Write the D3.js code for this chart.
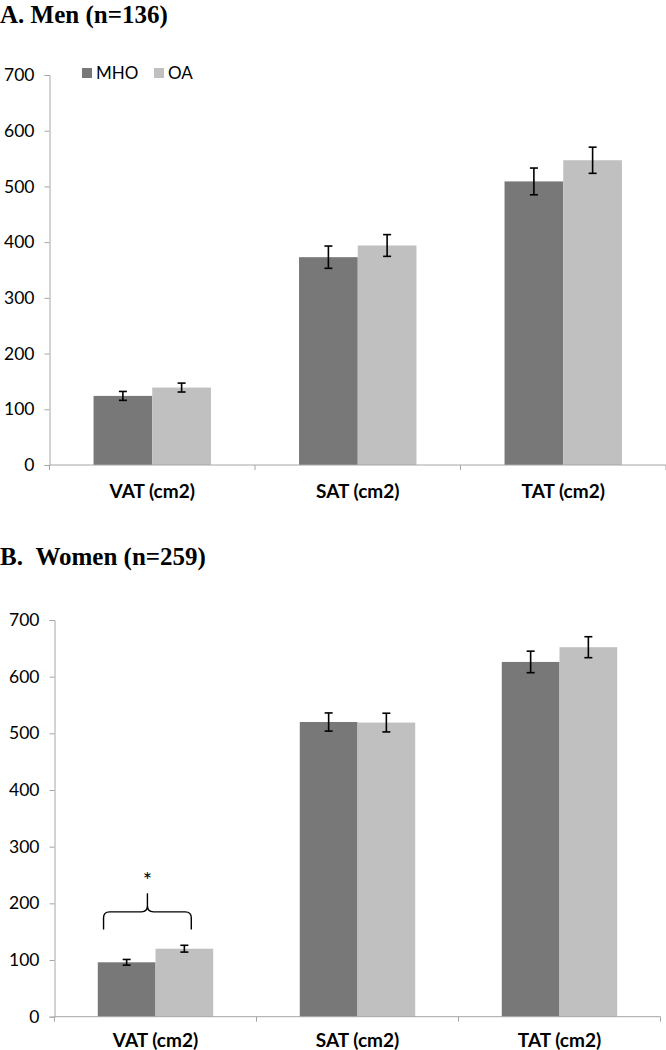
<!DOCTYPE html>
<html>
<head>
<meta charset="utf-8">
<script src="https://cdn.jsdelivr.net/npm/d3@7"></script>
<style>
  html, body { margin: 0; padding: 0; background: #fff; }
  svg { display: block; }
</style>
</head>
<body>
<svg id="chart" width="666" height="1050"></svg>
<script>
// ---------------- data ----------------
const categories = ["VAT (cm2)", "SAT (cm2)", "TAT (cm2)"];
const seriesNames = ["MHO", "OA"];
const seriesColors = ["#787878", "#c0c0c0"];
const yTickValues = [0, 100, 200, 300, 400, 500, 600, 700];

const menMHO = [124, 373, 509];
const menMHOErr = [8, 20, 24];
const menOA = [139, 394, 547];
const menOAErr = [8, 19.5, 23.5];

const womenMHO = [96, 520, 626];
const womenMHOErr = [5, 16, 19];
const womenOA = [120, 519, 652];
const womenOAErr = [6, 16.5, 18.5];

const panelTitles = ["A. Men (n=136)", "B.\u00a0\u00a0Women (n=259)"];

// significance annotation (women, VAT): brace values in data units
const braceLow = 154, braceMid = 185, braceTip = 218, starValue = 250;

// ---------------- drawing ----------------
const svg = d3.select("#chart");
const axisColor = "#a6a6a6";
const tickFont = "Lato, 'Open Sans', sans-serif";

function drawPanel(opts) {
  const { left, right, top, bottom, mho, mhoErr, oa, oaErr, title, titleY, legend, labelY } = opts;
  const g = svg.append("g");

  const x0 = d3.scaleBand().domain(categories).range([left, right]).padding(0);
  const x1 = d3.scaleBand().domain(seriesNames).range([0, x0.bandwidth()]).paddingInner(0).paddingOuter(0.75);
  const y = d3.scaleLinear().domain([0, 700]).range([bottom, top]);

  // title
  svg.append("text")
    .attr("x", 0).attr("y", titleY)
    .attr("font-family", "'Liberation Serif', 'Times New Roman', serif")
    .attr("font-weight", "bold").attr("font-size", 25)
    .attr("fill", "#000")
    .text(title);

  const rows = categories.map((c, i) => ({
    cat: c,
    vals: [
      { s: "MHO", v: mho[i], e: mhoErr[i], color: seriesColors[0] },
      { s: "OA", v: oa[i], e: oaErr[i], color: seriesColors[1] }
    ]
  }));

  const groups = g.selectAll("g.cat").data(rows).join("g")
    .attr("class", "cat")
    .attr("transform", d => `translate(${x0(d.cat)},0)`);

  groups.selectAll("rect").data(d => d.vals).join("rect")
    .attr("x", d => x1(d.s))
    .attr("y", d => y(d.v))
    .attr("width", x1.bandwidth())
    .attr("height", d => y(0) - y(d.v))
    .attr("fill", d => d.color);

  // error bars
  const capW = 4;
  const eb = groups.selectAll("g.err").data(d => d.vals).join("g").attr("class", "err")
    .attr("stroke", "#000").attr("stroke-width", 1.6);
  eb.append("line")
    .attr("x1", d => x1(d.s) + x1.bandwidth() / 2)
    .attr("x2", d => x1(d.s) + x1.bandwidth() / 2)
    .attr("y1", d => y(d.v + d.e)).attr("y2", d => y(d.v - d.e));
  eb.append("line")
    .attr("x1", d => x1(d.s) + x1.bandwidth() / 2 - capW)
    .attr("x2", d => x1(d.s) + x1.bandwidth() / 2 + capW)
    .attr("y1", d => y(d.v + d.e)).attr("y2", d => y(d.v + d.e));
  eb.append("line")
    .attr("x1", d => x1(d.s) + x1.bandwidth() / 2 - capW)
    .attr("x2", d => x1(d.s) + x1.bandwidth() / 2 + capW)
    .attr("y1", d => y(d.v - d.e)).attr("y2", d => y(d.v - d.e));

  // y axis
  const yAxis = g.append("g")
    .attr("transform", `translate(${left},0)`)
    .call(d3.axisLeft(y).tickValues(yTickValues).tickSize(5).tickSizeOuter(5).tickPadding(10));
  yAxis.select(".domain").attr("stroke", axisColor);
  yAxis.selectAll(".tick line").attr("stroke", axisColor);
  yAxis.selectAll(".tick text").attr("font-family", tickFont).attr("font-size", 17.5).attr("fill", "#000");

  // x axis line & boundary ticks
  g.append("line")
    .attr("x1", left).attr("x2", right)
    .attr("y1", y(0)).attr("y2", y(0))
    .attr("stroke", axisColor);
  const bounds = categories.map(c => x0(c)).concat([x0(categories[categories.length - 1]) + x0.bandwidth()]);
  g.selectAll("line.bt").data(bounds).join("line").attr("class", "bt")
    .attr("x1", d => d).attr("x2", d => d)
    .attr("y1", y(0)).attr("y2", y(0) + 5)
    .attr("stroke", axisColor);

  // category labels
  g.selectAll("text.cl").data(categories).join("text").attr("class", "cl")
    .attr("x", d => x0(d) + x0.bandwidth() / 2)
    .attr("y", labelY)
    .attr("text-anchor", "middle")
    .attr("font-family", tickFont).attr("font-weight", "bold").attr("font-size", 19)
    .attr("fill", "#000")
    .text(d => d);

  // legend
  if (legend) {
    const lg = g.append("g").attr("transform", `translate(${legend.x},${legend.y})`);
    const items = lg.selectAll("g").data(seriesNames).join("g")
      .attr("transform", (d, i) => `translate(${i * 72},0)`);
    items.append("rect").attr("x", 0).attr("y", -5).attr("width", 10).attr("height", 10)
      .attr("fill", (d, i) => seriesColors[i]);
    items.append("text").attr("x", 14).attr("y", 0).attr("dy", "0.35em")
      .attr("font-family", tickFont).attr("font-size", 17).attr("fill", "#000")
      .text(d => d);
  }

  return { x0, x1, y, g };
}

drawPanel({
  left: 49.5, right: 666, top: 75, bottom: 465,
  mho: menMHO, mhoErr: menMHOErr, oa: menOA, oaErr: menOAErr,
  title: panelTitles[0], titleY: 23, legend: { x: 82, y: 73 }, labelY: 498
});

const pB = drawPanel({
  left: 54.5, right: 660.5, top: 620, bottom: 1016.7,
  mho: womenMHO, mhoErr: womenMHOErr, oa: womenOA, oaErr: womenOAErr,
  title: panelTitles[1], titleY: 565, legend: null, labelY: 1047
});

// brace over women's VAT bars
(function () {
  const { x0, x1, y, g } = pB;
  const cat = categories[0];
  const xl = x0(cat) + x1("MHO") + x1.bandwidth() * 0.1;
  const xr = x0(cat) + x1("OA") + x1.bandwidth() * 0.62;
  const xm = (xl + xr) / 2;
  const yl = y(braceLow), ym = y(braceMid), yt = y(braceTip);
  const r = 6;
  const p = d3.path();
  p.moveTo(xl, yl);
  p.lineTo(xl, ym + r);
  p.quadraticCurveTo(xl, ym, xl + r, ym);
  p.lineTo(xm - r, ym);
  p.quadraticCurveTo(xm, ym, xm, ym - r);
  p.lineTo(xm, yt);
  p.moveTo(xm, ym - r);
  p.quadraticCurveTo(xm, ym, xm + r, ym);
  p.lineTo(xr - r, ym);
  p.quadraticCurveTo(xr, ym, xr, ym + r);
  p.lineTo(xr, yl);
  g.append("path").attr("d", p.toString())
    .attr("fill", "none").attr("stroke", "#000").attr("stroke-width", 1.4);
  g.append("text")
    .attr("x", xm).attr("y", y(starValue)).attr("dy", "0.6em")
    .attr("text-anchor", "middle")
    .attr("font-family", tickFont).attr("font-size", 22).attr("fill", "#000")
    .text("*");
})();
</script>
</body>
</html>
